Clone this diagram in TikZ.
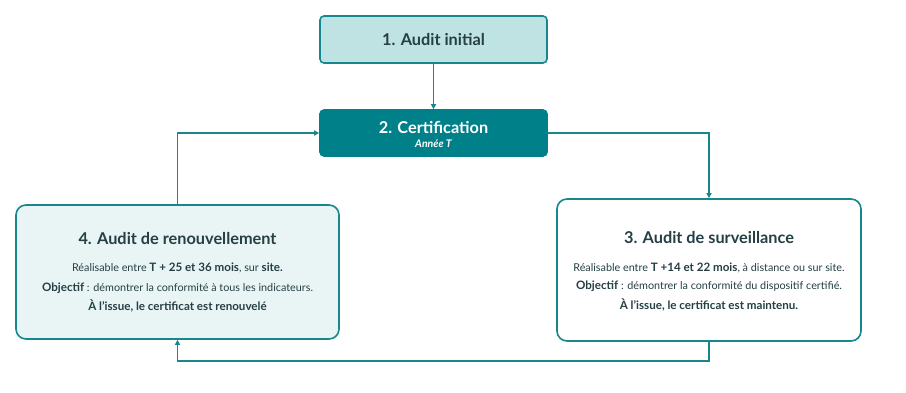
\documentclass[tikz,border=0pt]{standalone}
\usepackage{fontspec}
\setmainfont{Lato}
\usetikzlibrary{arrows.meta}
\definecolor{tealline}{HTML}{16878C}
\definecolor{tealdark}{HTML}{00818A}
\definecolor{tealpale}{HTML}{BFE3E3}
\definecolor{tealwash}{HTML}{E9F5F5}
\definecolor{ink}{HTML}{253F44}
\tikzset{
  box/.style={draw=tealline, line width=1.6pt, inner sep=0pt},
  conn/.style={draw=tealline, line width=1.4pt, -{Triangle[length=5pt,width=5pt]}},
  titletext/.style={font=\fontsize{16.3}{19}\selectfont\bfseries, text=ink},
  bodytext/.style={font=\fontsize{10.8}{12}\selectfont, text=ink},
}
\newcommand{\bb}[1]{{\fontsize{11.6}{13}\selectfont\bfseries #1}}
\begin{document}
\begin{tikzpicture}[x=1pt,y=-1pt]
\useasboundingbox (0,0) rectangle (906,393);
% boxes
\node[box, fill=tealpale, rounded corners=4pt, minimum width=227pt, minimum height=47pt] (b1) at (433.5,39.5) {};
\node[box, fill=tealdark, draw=tealdark, rounded corners=4pt, minimum width=227pt, minimum height=46pt] (b2) at (433.5,133) {};
\node[box, fill=tealwash, rounded corners=10pt, minimum width=323pt, minimum height=134pt] (b4) at (177.5,272) {};
\node[box, fill=white, rounded corners=10pt, minimum width=304pt, minimum height=142pt] (b3) at (709,270) {};
% texts
\node[titletext] (t1) at (433.5,40) {1. Audit initial};
\node[titletext, text=white] (t2) at (433.5,127) {2. Certification};
\node[font=\fontsize{10.5}{12}\selectfont\bfseries\itshape, text=white] (t2b) at (433.5,143.5) {Année T};

\node[titletext] (t4) at (177.5,239) {4. Audit de renouvellement};
\node[bodytext] (t4a) at (177.5,268) {Réalisable entre \bb{T + 25 et 36 mois}, sur \bb{site.}};
\node[bodytext] (t4b) at (177.5,288) {\bb{Objectif} : démontrer la conformité à tous les indicateurs.};
\node[bodytext] (t4c) at (177.5,306) {\bb{À l’issue, le certificat est renouvelé}};

\node[titletext] (t3) at (709,238) {3. Audit de surveillance};
\node[bodytext] (t3a) at (709,268) {Réalisable entre \bb{T +14 et 22 mois}, à distance ou sur site.};
\node[bodytext] (t3b) at (709,286) {\bb{Objectif} : démontrer la conformité du dispositif certifié.};
\node[bodytext] (t3c) at (709,305) {\bb{À l’issue, le certificat est maintenu.}};

% connectors
\coordinate (low) at (433,361);
\draw[conn] (b1.south) -- (b2.north);
\draw[conn] (b4.north) |- (b2.west);
\draw[conn] (b2.east) -| (b3.north);
\draw[conn] (b3.south) |- (low) -| (b4.south);
\end{tikzpicture}
\end{document}
